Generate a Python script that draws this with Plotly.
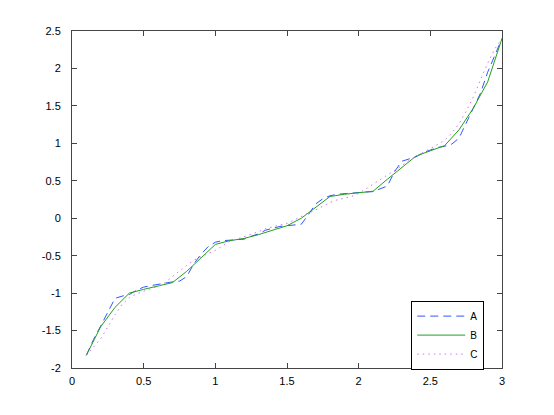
import plotly.graph_objects as go

# sample positions
x_fine = [round(0.1 + 0.05 * i, 2) for i in range(59)]
x_coarse = [round(0.1 + 0.1 * i, 1) for i in range(30)]

# series A (dashed)
a_values = [
    -1.83, -1.62, -1.44, -1.26, -1.07, -1.04, -1.02, -0.96, -0.92, -0.90,
    -0.88, -0.87, -0.85, -0.84, -0.78, -0.61, -0.48, -0.38, -0.32, -0.30,
    -0.29, -0.28, -0.28, -0.24, -0.21, -0.16, -0.13, -0.11, -0.10, -0.09,
    -0.08, 0.05, 0.19, 0.26, 0.30, 0.32, 0.33, 0.34, 0.34, 0.35,
    0.355, 0.39, 0.43, 0.62, 0.76, 0.79, 0.82, 0.875, 0.91, 0.945,
    0.96, 0.99, 1.07, 1.27, 1.45, 1.67, 1.95, 2.17, 2.40,
]

# series B (solid)
b_values = [
    -1.83, -1.45, -1.19, -1.00, -0.95, -0.90, -0.86, -0.71, -0.53, -0.35,
    -0.30, -0.27, -0.22, -0.16, -0.10, 0.00, 0.15, 0.29, 0.32, 0.34,
    0.36, 0.52, 0.67, 0.83, 0.90, 0.97, 1.18, 1.47, 1.82, 2.40,
]

# series C (dotted)
c_values = [
    -1.83, -1.72, -1.61, -1.45, -1.29, -1.15, -1.06, -1.01, -0.97, -0.94,
    -0.91, -0.86, -0.78, -0.70, -0.63, -0.56, -0.51, -0.47, -0.43, -0.37,
    -0.31, -0.28, -0.25, -0.22, -0.18, -0.14, -0.11, -0.09, -0.07, -0.02,
    0.03, 0.07, 0.11, 0.16, 0.21, 0.245, 0.27, 0.29, 0.33, 0.39,
    0.46, 0.51, 0.57, 0.63, 0.70, 0.77, 0.83, 0.88, 0.93, 0.98,
    1.04, 1.14, 1.26, 1.43, 1.62, 1.85, 2.07, 2.26, 2.40,
]

x_ticks = [0, 0.5, 1, 1.5, 2, 2.5, 3]
x_ticktext = ["0", "0.5", "1", "1.5", "2", "2.5", "3"]
y_ticks = [-2, -1.5, -1, -0.5, 0, 0.5, 1, 1.5, 2, 2.5]
y_ticktext = ["-2", "-1.5", "-1", "-0.5", "0", "0.5", "1", "1.5", "2", "2.5"]

fig = go.Figure()
fig.add_trace(
    go.Scatter(
        x=x_fine, y=a_values, mode="lines", name="A",
        line=dict(color="#3355ff", width=1, dash="8px,5px"),
    )
)
fig.add_trace(
    go.Scatter(
        x=x_coarse, y=b_values, mode="lines", name="B",
        line=dict(color="#22a022", width=1),
    )
)
fig.add_trace(
    go.Scatter(
        x=x_fine, y=c_values, mode="lines", name="C",
        line=dict(color="#cc77ee", width=1, dash="1.5px,4px"),
    )
)

axis_style = dict(
    showgrid=False,
    zeroline=False,
    showline=True,
    linecolor="#444444",
    linewidth=1,
    mirror="allticks",
    ticks="inside",
    ticklen=5,
    tickcolor="#444444",
    tickfont=dict(family="Liberation Sans, Arial, sans-serif", size=11, color="black"),
)

fig.update_xaxes(range=[0, 3], tickvals=x_ticks, ticktext=x_ticktext,
                 ticklabelstandoff=3, **axis_style)
fig.update_yaxes(range=[-2, 2.5], tickvals=y_ticks, ticktext=y_ticktext,
                 ticklabelstandoff=8, **axis_style)

# page body adds 8px offset, so margins are shifted accordingly
fig.update_layout(
    width=554,
    height=415,
    margin=dict(l=64, r=60, t=23, b=55),
    plot_bgcolor="white",
    paper_bgcolor="white",
    showlegend=True,
    legend=dict(
        x=0.789, y=0.2, xanchor="left", yanchor="top",
        bgcolor="white", bordercolor="black", borderwidth=1,
        font=dict(family="Liberation Sans, Arial, sans-serif", size=10, color="black"),
        tracegroupgap=0,
        itemwidth=48,
    ),
)

fig.write_html("out.html")
